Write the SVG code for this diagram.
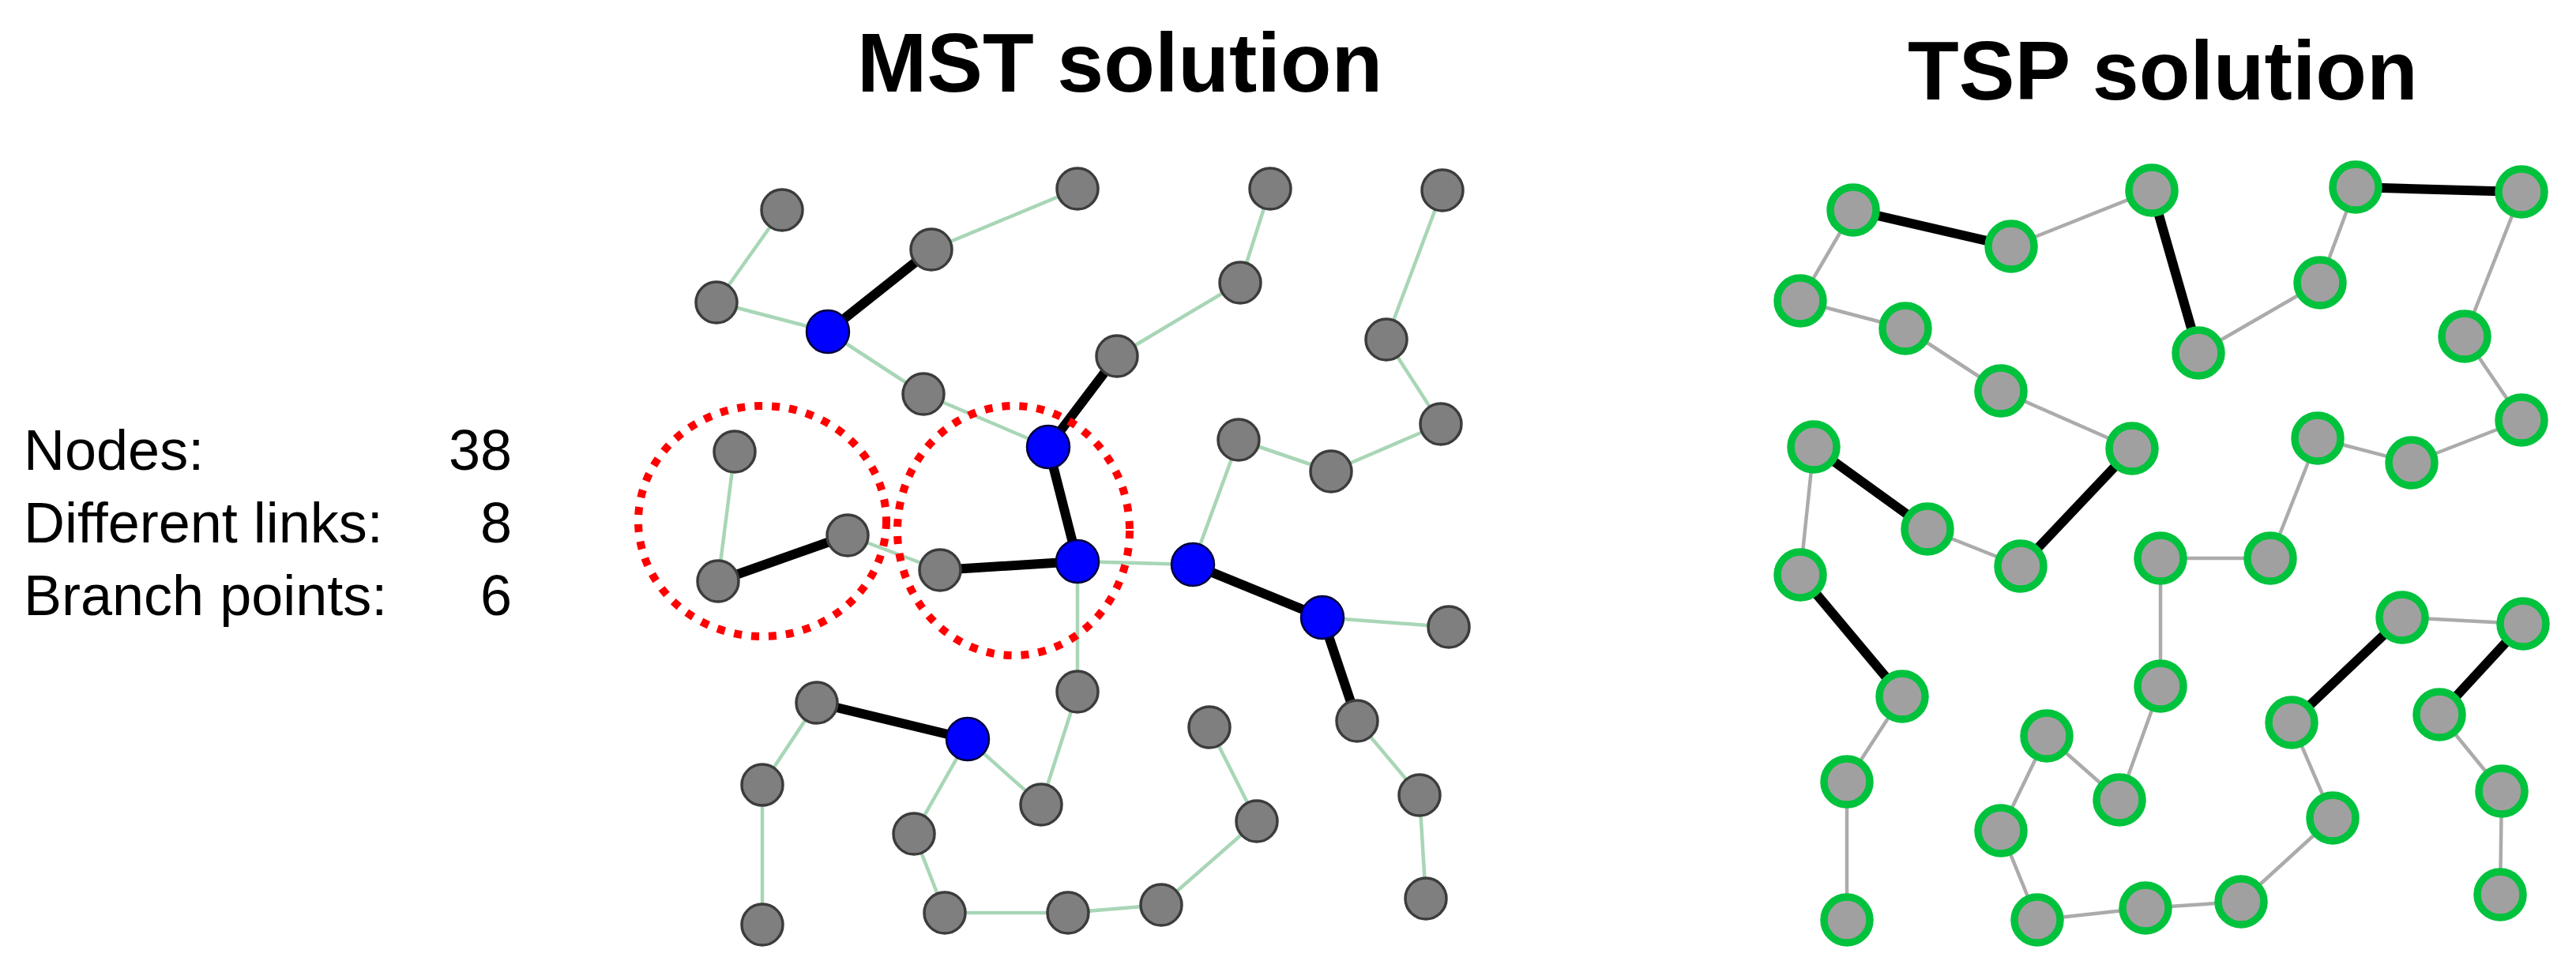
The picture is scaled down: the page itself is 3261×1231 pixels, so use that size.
<svg xmlns="http://www.w3.org/2000/svg" width="3261" height="1231" viewBox="0 0 3261 1231">
<style>
.bg{fill:#ffffff}
.title{font-family:"Liberation Sans",Arial,sans-serif;font-weight:bold;font-size:106px;fill:#000}
.stat{font-family:"Liberation Sans",Arial,sans-serif;font-size:72px;fill:#000}
.me{stroke:#a8d6b6;stroke-width:4.5;fill:none}
.te{stroke:#ababab;stroke-width:4.5;fill:none}
.bk{stroke:#000;stroke-width:12;fill:none}
.mn{fill:#7f7f7f;stroke:#3c3c3c;stroke-width:3.5}
.bn{fill:#0000ff;stroke:#00003a;stroke-width:2.5}
.tn{fill:#a0a0a0;stroke:#00c23c;stroke-width:9.5}
.ring{fill:none;stroke:#ff0000;stroke-width:10;stroke-dasharray:10 12}
</style>
<rect class="bg" x="0" y="0" width="3261" height="1231"/>
<text class="title" x="1085" y="116">MST solution</text>
<text class="title" x="2415" y="126">TSP solution</text>
<g id="stats">
<text class="stat" x="30" y="595">Nodes:</text>
<text class="stat" x="648" y="595" text-anchor="end">38</text>
<text class="stat" x="30" y="687">Different links:</text>
<text class="stat" x="648" y="687" text-anchor="end">8</text>
<text class="stat" x="30" y="779">Branch points:</text>
<text class="stat" x="648" y="779" text-anchor="end">6</text>
</g>
<g id="connectors">
<!-- MST tree edges -->
<line class="me" x1="990" y1="266" x2="907" y2="383"/>
<line class="me" x1="907" y1="383" x2="1048" y2="420"/>
<line class="me" x1="1179" y1="316" x2="1364" y2="239"/>
<line class="me" x1="1048" y1="420" x2="1169" y2="499"/>
<line class="me" x1="1169" y1="499" x2="1327" y2="566"/>
<line class="me" x1="930" y1="572" x2="909" y2="736"/>
<line class="me" x1="1073" y1="678" x2="1190" y2="722"/>
<line class="me" x1="1364" y1="711" x2="1510" y2="715"/>
<line class="me" x1="1364" y1="711" x2="1364" y2="876"/>
<line class="me" x1="1364" y1="876" x2="1318" y2="1019"/>
<line class="me" x1="1510" y1="715" x2="1568" y2="557"/>
<line class="me" x1="1568" y1="557" x2="1685" y2="597"/>
<line class="me" x1="1685" y1="597" x2="1824" y2="537"/>
<line class="me" x1="1824" y1="537" x2="1755" y2="430"/>
<line class="me" x1="1755" y1="430" x2="1826" y2="241"/>
<line class="me" x1="1414" y1="451" x2="1570" y2="358"/>
<line class="me" x1="1570" y1="358" x2="1608" y2="239"/>
<line class="me" x1="1674" y1="782" x2="1834" y2="794"/>
<line class="me" x1="1718" y1="913" x2="1797" y2="1007"/>
<line class="me" x1="1797" y1="1007" x2="1805" y2="1138"/>
<line class="me" x1="1531" y1="921" x2="1591" y2="1040"/>
<line class="me" x1="1591" y1="1040" x2="1470" y2="1146"/>
<line class="me" x1="1470" y1="1146" x2="1352" y2="1156"/>
<line class="me" x1="1352" y1="1156" x2="1196" y2="1156"/>
<line class="me" x1="1196" y1="1156" x2="1157" y2="1056"/>
<line class="me" x1="1157" y1="1056" x2="1225" y2="936"/>
<line class="me" x1="1225" y1="936" x2="1318" y2="1019"/>
<line class="me" x1="1034" y1="890" x2="965" y2="994"/>
<line class="me" x1="965" y1="994" x2="965" y2="1171"/>
<line class="bk" x1="1048" y1="420" x2="1179" y2="316"/>
<line class="bk" x1="909" y1="736" x2="1073" y2="678"/>
<line class="bk" x1="1190" y1="722" x2="1364" y2="711"/>
<line class="bk" x1="1327" y1="566" x2="1414" y2="451"/>
<line class="bk" x1="1327" y1="566" x2="1364" y2="711"/>
<line class="bk" x1="1510" y1="715" x2="1674" y2="782"/>
<line class="bk" x1="1674" y1="782" x2="1718" y2="913"/>
<line class="bk" x1="1034" y1="890" x2="1225" y2="936"/>
<!-- TSP tour edges -->
<line class="te" x1="3192" y1="243" x2="3120" y2="426"/>
<line class="te" x1="3120" y1="426" x2="3192" y2="532"/>
<line class="te" x1="3192" y1="532" x2="3053" y2="586"/>
<line class="te" x1="3053" y1="586" x2="2934" y2="555"/>
<line class="te" x1="2934" y1="555" x2="2874" y2="707"/>
<line class="te" x1="2874" y1="707" x2="2735" y2="707"/>
<line class="te" x1="2735" y1="707" x2="2735" y2="869"/>
<line class="te" x1="2735" y1="869" x2="2683" y2="1013"/>
<line class="te" x1="2683" y1="1013" x2="2591" y2="932"/>
<line class="te" x1="2591" y1="932" x2="2533" y2="1052"/>
<line class="te" x1="2533" y1="1052" x2="2579" y2="1165"/>
<line class="te" x1="2579" y1="1165" x2="2716" y2="1150"/>
<line class="te" x1="2716" y1="1150" x2="2837" y2="1142"/>
<line class="te" x1="2837" y1="1142" x2="2953" y2="1036"/>
<line class="te" x1="2953" y1="1036" x2="2901" y2="915"/>
<line class="te" x1="3041" y1="782" x2="3194" y2="790"/>
<line class="te" x1="3088" y1="905" x2="3167" y2="1002"/>
<line class="te" x1="3167" y1="1002" x2="3165" y2="1133"/>
<line class="te" x1="2982" y1="237" x2="2937" y2="358"/>
<line class="te" x1="2937" y1="358" x2="2783" y2="447"/>
<line class="te" x1="2724" y1="241" x2="2546" y2="312"/>
<line class="te" x1="2346" y1="266" x2="2279" y2="381"/>
<line class="te" x1="2279" y1="381" x2="2412" y2="416"/>
<line class="te" x1="2412" y1="416" x2="2533" y2="495"/>
<line class="te" x1="2533" y1="495" x2="2699" y2="568"/>
<line class="te" x1="2558" y1="717" x2="2440" y2="670"/>
<line class="te" x1="2296" y1="566" x2="2279" y2="728"/>
<line class="te" x1="2408" y1="882" x2="2338" y2="990"/>
<line class="te" x1="2338" y1="990" x2="2338" y2="1165"/>
<line class="bk" x1="2982" y1="237" x2="3192" y2="243"/>
<line class="bk" x1="2901" y1="915" x2="3041" y2="782"/>
<line class="bk" x1="3194" y1="790" x2="3088" y2="905"/>
<line class="bk" x1="2783" y1="447" x2="2724" y2="241"/>
<line class="bk" x1="2546" y1="312" x2="2346" y2="266"/>
<line class="bk" x1="2699" y1="568" x2="2558" y2="717"/>
<line class="bk" x1="2440" y1="670" x2="2296" y2="566"/>
<line class="bk" x1="2279" y1="728" x2="2408" y2="882"/>
</g>
<g id="mst-nodes">
<g id="m1"><circle class="mn" cx="990" cy="266" r="26"/></g>
<g id="m2"><circle class="mn" cx="1179" cy="316" r="26"/></g>
<g id="m3"><circle class="mn" cx="1364" cy="239" r="26"/></g>
<g id="m4"><circle class="mn" cx="1608" cy="239" r="26"/></g>
<g id="m5"><circle class="mn" cx="1826" cy="241" r="26"/></g>
<g id="m6"><circle class="mn" cx="907" cy="383" r="26"/></g>
<g id="m7"><circle class="bn" cx="1048" cy="420" r="27"/></g>
<g id="m8"><circle class="mn" cx="1570" cy="358" r="26"/></g>
<g id="m9"><circle class="mn" cx="1414" cy="451" r="26"/></g>
<g id="m10"><circle class="mn" cx="1755" cy="430" r="26"/></g>
<g id="m11"><circle class="mn" cx="1169" cy="499" r="26"/></g>
<g id="m12"><circle class="mn" cx="930" cy="572" r="26"/></g>
<g id="m13"><circle class="bn" cx="1327" cy="566" r="27"/></g>
<g id="m14"><circle class="mn" cx="1568" cy="557" r="26"/></g>
<g id="m15"><circle class="mn" cx="1824" cy="537" r="26"/></g>
<g id="m16"><circle class="mn" cx="1685" cy="597" r="26"/></g>
<g id="m17"><circle class="mn" cx="1073" cy="678" r="26"/></g>
<g id="m18"><circle class="mn" cx="909" cy="736" r="26"/></g>
<g id="m19"><circle class="mn" cx="1190" cy="722" r="26"/></g>
<g id="m20"><circle class="bn" cx="1364" cy="711" r="27"/></g>
<g id="m21"><circle class="bn" cx="1510" cy="715" r="27"/></g>
<g id="m22"><circle class="bn" cx="1674" cy="782" r="27"/></g>
<g id="m23"><circle class="mn" cx="1834" cy="794" r="26"/></g>
<g id="m24"><circle class="mn" cx="1034" cy="890" r="26"/></g>
<g id="m25"><circle class="bn" cx="1225" cy="936" r="27"/></g>
<g id="m26"><circle class="mn" cx="1364" cy="876" r="26"/></g>
<g id="m27"><circle class="mn" cx="1718" cy="913" r="26"/></g>
<g id="m28"><circle class="mn" cx="1531" cy="921" r="26"/></g>
<g id="m29"><circle class="mn" cx="965" cy="994" r="26"/></g>
<g id="m30"><circle class="mn" cx="1318" cy="1019" r="26"/></g>
<g id="m31"><circle class="mn" cx="1591" cy="1040" r="26"/></g>
<g id="m32"><circle class="mn" cx="1797" cy="1007" r="26"/></g>
<g id="m33"><circle class="mn" cx="1157" cy="1056" r="26"/></g>
<g id="m34"><circle class="mn" cx="965" cy="1171" r="26"/></g>
<g id="m35"><circle class="mn" cx="1196" cy="1156" r="26"/></g>
<g id="m36"><circle class="mn" cx="1352" cy="1156" r="26"/></g>
<g id="m37"><circle class="mn" cx="1470" cy="1146" r="26"/></g>
<g id="m38"><circle class="mn" cx="1805" cy="1138" r="26"/></g>
</g>
<g id="tsp-nodes">
<g id="t1"><circle class="tn" cx="2346" cy="266" r="29"/></g>
<g id="t2"><circle class="tn" cx="2546" cy="312" r="29"/></g>
<g id="t3"><circle class="tn" cx="2724" cy="241" r="29"/></g>
<g id="t4"><circle class="tn" cx="2982" cy="237" r="29"/></g>
<g id="t5"><circle class="tn" cx="3192" cy="243" r="29"/></g>
<g id="t6"><circle class="tn" cx="2279" cy="381" r="29"/></g>
<g id="t7"><circle class="tn" cx="2412" cy="416" r="29"/></g>
<g id="t8"><circle class="tn" cx="2533" cy="495" r="29"/></g>
<g id="t9"><circle class="tn" cx="2937" cy="358" r="29"/></g>
<g id="t10"><circle class="tn" cx="2783" cy="447" r="29"/></g>
<g id="t11"><circle class="tn" cx="3120" cy="426" r="29"/></g>
<g id="t12"><circle class="tn" cx="2296" cy="566" r="29"/></g>
<g id="t13"><circle class="tn" cx="2699" cy="568" r="29"/></g>
<g id="t14"><circle class="tn" cx="2934" cy="555" r="29"/></g>
<g id="t15"><circle class="tn" cx="3053" cy="586" r="29"/></g>
<g id="t16"><circle class="tn" cx="3192" cy="532" r="29"/></g>
<g id="t17"><circle class="tn" cx="2440" cy="670" r="29"/></g>
<g id="t18"><circle class="tn" cx="2558" cy="717" r="29"/></g>
<g id="t19"><circle class="tn" cx="2735" cy="707" r="29"/></g>
<g id="t20"><circle class="tn" cx="2874" cy="707" r="29"/></g>
<g id="t21"><circle class="tn" cx="2279" cy="728" r="29"/></g>
<g id="t22"><circle class="tn" cx="3041" cy="782" r="29"/></g>
<g id="t23"><circle class="tn" cx="3194" cy="790" r="29"/></g>
<g id="t24"><circle class="tn" cx="2408" cy="882" r="29"/></g>
<g id="t25"><circle class="tn" cx="2735" cy="869" r="29"/></g>
<g id="t26"><circle class="tn" cx="2901" cy="915" r="29"/></g>
<g id="t27"><circle class="tn" cx="3088" cy="905" r="29"/></g>
<g id="t28"><circle class="tn" cx="2591" cy="932" r="29"/></g>
<g id="t29"><circle class="tn" cx="2338" cy="990" r="29"/></g>
<g id="t30"><circle class="tn" cx="2683" cy="1013" r="29"/></g>
<g id="t31"><circle class="tn" cx="2953" cy="1036" r="29"/></g>
<g id="t32"><circle class="tn" cx="3167" cy="1002" r="29"/></g>
<g id="t33"><circle class="tn" cx="2533" cy="1052" r="29"/></g>
<g id="t34"><circle class="tn" cx="3165" cy="1133" r="29"/></g>
<g id="t35"><circle class="tn" cx="2338" cy="1165" r="29"/></g>
<g id="t36"><circle class="tn" cx="2579" cy="1165" r="29"/></g>
<g id="t37"><circle class="tn" cx="2716" cy="1150" r="29"/></g>
<g id="t38"><circle class="tn" cx="2837" cy="1142" r="29"/></g>
</g>
<g id="highlights">
<ellipse class="ring" cx="965" cy="660" rx="157" ry="146"/>
<ellipse class="ring" cx="1283" cy="672" rx="147" ry="158"/>
</g>
</svg>
